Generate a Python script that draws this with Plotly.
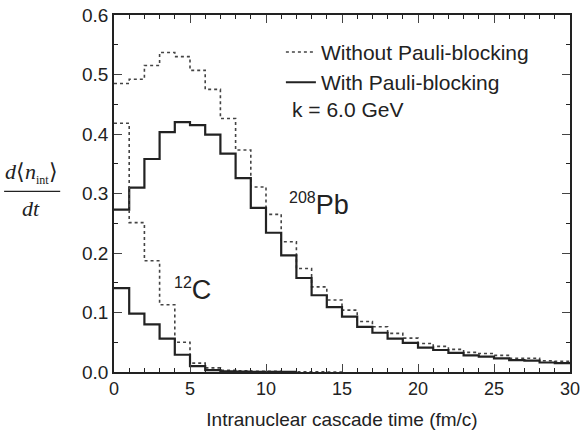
import numpy as np
import plotly.graph_objects as go

# bin edges (fm/c)
edges = list(range(0, 31))

pb_without = [0.485, 0.492, 0.515, 0.537, 0.530, 0.507, 0.475, 0.426, 0.373, 0.311,
              0.265, 0.219, 0.174, 0.143, 0.121, 0.104, 0.085, 0.076, 0.065, 0.057,
              0.048, 0.043, 0.038, 0.033, 0.031, 0.028, 0.023, 0.023, 0.019, 0.018]
pb_with = [0.273, 0.310, 0.358, 0.403, 0.420, 0.415, 0.399, 0.367, 0.326, 0.276,
           0.234, 0.196, 0.158, 0.129, 0.109, 0.093, 0.076, 0.066, 0.056, 0.049,
           0.041, 0.037, 0.032, 0.028, 0.026, 0.023, 0.020, 0.019, 0.016, 0.015]
c_without = [0.418, 0.251, 0.187, 0.113, 0.050, 0.015, 0.007, 0.003, 0.002, 0.001,
             0.001, 0.0005, 0.0003, 0.0002, 0.0001]
c_with = [0.141, 0.098, 0.080, 0.056, 0.029, 0.010, 0.003, 0.001, 0.0007, 0.0004,
          0.0002, 0.0001]

x_ticks = [0, 5, 10, 15, 20, 25, 30]
y_ticks = [0.0, 0.1, 0.2, 0.3, 0.4, 0.5, 0.6]


def step(vals):
    n = len(vals)
    xs = edges[:n + 1]
    ys = list(vals) + [vals[-1]]
    return xs, ys


fig = go.Figure()
dotcol = "#444444"
for vals, dash, name, show in [
    (pb_without, "dot", "Without Pauli-blocking", True),
    (pb_with, "solid", "With Pauli-blocking", True),
    (c_without, "dot", "Without Pauli-blocking", False),
    (c_with, "solid", "With Pauli-blocking", False),
]:
    xs, ys = step(vals)
    fig.add_trace(go.Scatter(
        x=xs, y=ys, mode="lines", line_shape="hv", name=name, showlegend=show,
        line=dict(color=dotcol if dash == "dot" else "#222222",
                  width=1.6 if dash == "dot" else 2.2, dash=dash),
    ))

font = "Liberation Sans, Arial, sans-serif"
fig.update_layout(
    width=581, height=430,
    margin=dict(l=114, r=11, t=15, b=58, autoexpand=False),
    paper_bgcolor="white", plot_bgcolor="white",
    font=dict(family=font, size=19, color="#222"),
    showlegend=True,
    legend=dict(x=0.366, y=0.953, xanchor="left", yanchor="top",
                bgcolor="rgba(0,0,0,0)", font=dict(size=21, family=font),
                itemwidth=30, tracegroupgap=0),
    xaxis=dict(range=[0, 30], tickvals=x_ticks, ticks="inside", ticklen=8,
               tickwidth=1.2, showline=True, linecolor="#222", linewidth=1.5,
               mirror="ticks", showgrid=False, zeroline=False, automargin=False,
               minor=dict(dtick=1, ticks="inside", ticklen=4, tickwidth=1, tickcolor="#222"),
               tickfont=dict(size=18),
               title=dict(text="Intranuclear cascade time (fm/c)", font=dict(size=19), standoff=14)),
    yaxis=dict(range=[0, 0.6], tickvals=y_ticks, tickformat=".1f", ticks="inside",
               ticklen=8, tickwidth=1.2, showline=True, linecolor="#222", linewidth=1.5,
               mirror="ticks", showgrid=False, zeroline=False, automargin=False,
               minor=dict(dtick=0.05, ticks="inside", ticklen=4, tickwidth=1, tickcolor="#222"),
               tickfont=dict(size=19)),
)

fig.add_annotation(text="k = 6.0 GeV", x=0.386, y=0.735, xref="paper", yref="paper",
                   xanchor="left", yanchor="middle", showarrow=False, font=dict(size=21))
fig.add_annotation(text="<sup><span style='font-size:16px'>208</span></sup>Pb", x=0.379, y=0.469,
                   xref="paper", yref="paper",
                   xanchor="left", yanchor="middle", showarrow=False, font=dict(size=27))
fig.add_annotation(text="<sup><span style='font-size:16px'>12</span></sup>C", x=0.127, y=0.231,
                   xref="paper", yref="paper",
                   xanchor="left", yanchor="middle", showarrow=False, font=dict(size=27))

# y-axis label as a fraction
serif = "Liberation Serif, Times New Roman, serif"
fig.add_annotation(text="<i>d</i>\u27E8<i>n</i><sub><span style='font-size:12px'>int</span></sub>\u27E9",
                   x=-0.182, y=0.512,
                   xref="paper", yref="paper", xanchor="center", yanchor="bottom",
                   showarrow=False, font=dict(size=22, family=serif))
fig.add_annotation(text="<i>dt</i>", x=-0.182, y=0.500, xref="paper", yref="paper",
                   xanchor="center", yanchor="top", showarrow=False,
                   font=dict(size=22, family=serif))
fig.add_shape(type="line", xref="paper", yref="paper", x0=-0.241, x1=-0.118,
              y0=0.506, y1=0.506, line=dict(color="#222", width=1.2))

fig.write_html("out.html")
